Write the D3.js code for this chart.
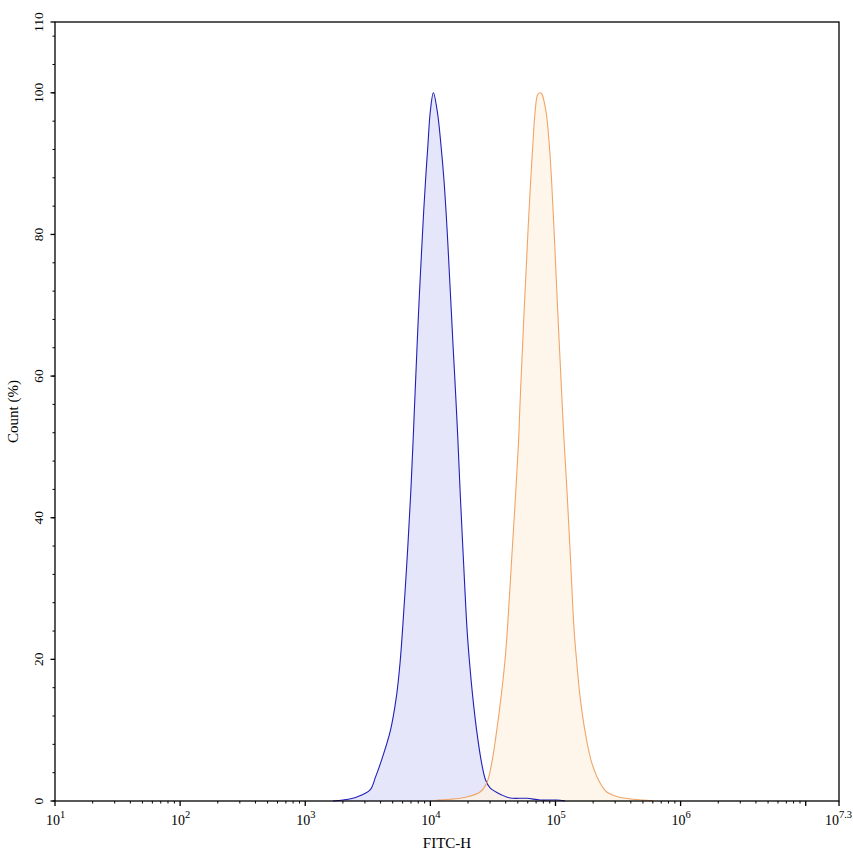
<!DOCTYPE html>
<html>
<head>
<meta charset="UTF-8">
<title>FITC-H histogram</title>
<style>
  html, body { margin: 0; padding: 0; background: #fff; }
  #canvas { width: 853px; height: 856px; }
  #canvas svg { display: block; }
</style>
<script src="https://cdn.jsdelivr.net/npm/d3@7/dist/d3.min.js"></script>
</head>
<body>
<div id="canvas"></div>
<script>
// blue histogram (FITC-H value, count %)
var blueX = [1667, 2004, 2594, 3296, 3648, 4148, 4808, 5349, 5726, 5995, 6490, 6944, 7288, 7437, 7632, 7831, 8050, 8290, 8554, 8841, 9171, 9550, 9981, 10572,
             11376, 12176, 12820, 13350, 13826, 14266, 14720, 15187, 15696, 16196, 16589, 17370, 18428, 19650, 20573, 21820, 23405, 25670, 27620, 30010,
             37220, 43390, 58980, 75340, 101200, 119400];
var blueY = [0, 0.14, 0.57, 1.56, 3.4, 6.2, 10.05, 14.7, 19.53, 24.2, 33.68, 43.0, 51.08, 54.9, 59.57, 64.24, 69.05, 73.7, 78.4, 83.2, 87.9, 92.5, 97.3, 100,
             97.3, 92.5, 87.9, 83.2, 78.4, 73.7, 69.05, 64.24, 59.57, 54.9, 51.08, 43.0, 33.68, 24.2, 19.53, 14.7, 10.05, 5.38, 2.97, 1.84,
             0.85, 0.42, 0.38, 0.14, 0.14, 0];

// orange histogram
var orangeX = [11250, 14350, 19540, 24960, 28240, 30960, 33960, 36740, 39330, 41260, 44480, 47890, 50800, 51740, 53090, 54580, 56110, 57790, 59520,
               61410, 63480, 65850, 68700, 72220, 75340, 77700, 84110, 89390, 92900, 95850, 98720, 101480, 104330, 107440, 110660, 113980, 116950,
               124270, 132300, 140800, 148000, 157300, 171500, 195000, 227300, 257200, 318400, 419600, 602600];
var orangeY = [0.14, 0.24, 0.57, 1.27, 2.55, 5.38, 10.05, 14.7, 19.53, 24.2, 33.68, 43.0, 51.08, 54.9, 59.57, 64.24, 69.05, 73.7, 78.4,
               83.2, 87.9, 92.5, 97.3, 99.8, 100, 99.86, 97.3, 92.5, 87.9, 83.2, 78.4, 73.7, 69.05, 64.24, 59.57, 54.9, 51.08,
               43.0, 33.68, 24.2, 19.53, 14.7, 10.05, 5.38, 2.55, 1.27, 0.57, 0.24, 0.04];

// axes
var xExps = [1, 2, 3, 4, 5, 6];
var xMaxExp = 7.266;
var xMaxLabel = "7.3";
var yTicks = [0, 20, 40, 60, 80, 100, 110];
var yMax = 110;

var margin = {top: 22, right: 14, bottom: 55, left: 55};
var outerWidth = 853, outerHeight = 856;
var innerWidth = outerWidth - margin.left - margin.right;
var innerHeight = outerHeight - margin.top - margin.bottom;

var x = d3.scaleLog()
          .domain([10, Math.pow(10, xMaxExp)])
          .range([0, innerWidth]);
var y = d3.scaleLinear()
          .domain([0, yMax])
          .range([innerHeight, 0]);

var svg = d3.select("#canvas")
            .append("svg")
            .attr("width", outerWidth)
            .attr("height", outerHeight)
            .attr("font-family", "'Liberation Serif', 'Times New Roman', 'DejaVu Serif', serif")
            .append("g")
            .attr("transform", "translate(" + margin.left + "," + margin.top + ")");

// histograms
function series(xs, ys) {
  return xs.map(function(v, i) { return {x: v, y: ys[i]}; });
}
var curve = d3.curveCatmullRom.alpha(0.5);
var area = d3.area()
             .x(function(d) { return x(d.x); })
             .y0(innerHeight)
             .y1(function(d) { return Math.min(y(d.y), innerHeight); })
             .curve(curve);
var line = d3.line()
             .x(function(d) { return x(d.x); })
             .y(function(d) { return Math.min(y(d.y), innerHeight); })
             .curve(curve);

var blue = series(blueX, blueY);
var orange = series(orangeX, orangeY);

svg.append("path").datum(blue).attr("d", area)
   .attr("fill", "#e6e6fb");
svg.append("path").datum(orange).attr("d", area)
   .attr("fill", "#fef2e6").attr("fill-opacity", 0.8);
svg.append("path").datum(blue).attr("d", line)
   .attr("fill", "none").attr("stroke", "#2020b8").attr("stroke-width", 1.1);
svg.append("path").datum(orange).attr("d", line)
   .attr("fill", "none").attr("stroke", "#f0a567").attr("stroke-width", 1.1);

// frame
svg.append("rect")
   .attr("x", 0).attr("y", 0)
   .attr("width", innerWidth).attr("height", innerHeight)
   .attr("fill", "none").attr("stroke", "#000").attr("stroke-width", 1.3);

// x ticks
var minor = [];
for (var e = 1; e < 8; e++) {
  for (var m = 2; m <= 9; m++) {
    var v = m * Math.pow(10, e);
    if (Math.log10(v) < xMaxExp) minor.push(v);
  }
}
var major = xExps.map(function(e) { return Math.pow(10, e); }).concat([1e7, Math.pow(10, xMaxExp)]);

svg.selectAll(".xminor").data(minor).enter().append("line")
   .attr("x1", function(d) { return x(d); }).attr("x2", function(d) { return x(d); })
   .attr("y1", innerHeight).attr("y2", innerHeight + 2.5)
   .attr("stroke", "#000").attr("stroke-width", 1);
svg.selectAll(".xmajor").data(major).enter().append("line")
   .attr("x1", function(d) { return x(d); }).attr("x2", function(d) { return x(d); })
   .attr("y1", innerHeight).attr("y2", innerHeight + 5)
   .attr("stroke", "#000").attr("stroke-width", 1.3);

// x tick labels: "10" plus a separate superscript text
var xLabels = xExps.map(function(e) { return {v: Math.pow(10, e), t: String(e)}; })
                   .concat([{v: Math.pow(10, xMaxExp), t: xMaxLabel}]);
var xg = svg.selectAll(".xlabel").data(xLabels).enter().append("g")
            .attr("class", "xlabel");
xg.append("text")
  .attr("class", "base")
  .attr("y", innerHeight + 24)
  .attr("fill", "#000")
  .style("font-size", "14px")
  .text("10");
xg.append("text")
  .attr("class", "sup")
  .attr("y", innerHeight + 17)
  .attr("fill", "#000")
  .style("font-size", "10.5px")
  .text(function(d) { return d.t; });
xg.each(function(d) {
  var g = d3.select(this);
  var base = g.select(".base"), sup = g.select(".sup");
  var bw = base.node().getComputedTextLength();
  var sw = sup.node().getComputedTextLength();
  var left = x(d.v) - 9;
  // keep the last label inside the page
  var over = left + bw + sw + margin.left - (outerWidth - 1);
  if (over > 0) left -= over;
  base.attr("x", left);
  sup.attr("x", left + bw);
});

// y ticks
var yMinor = d3.range(0, yMax, 4);
svg.selectAll(".yminor").data(yMinor).enter().append("line")
   .attr("x1", -2.5).attr("x2", 0)
   .attr("y1", function(d) { return y(d); }).attr("y2", function(d) { return y(d); })
   .attr("stroke", "#000").attr("stroke-width", 1);
svg.selectAll(".ymajor").data(yTicks).enter().append("line")
   .attr("x1", -4.5).attr("x2", 0)
   .attr("y1", function(d) { return y(d); }).attr("y2", function(d) { return y(d); })
   .attr("stroke", "#000").attr("stroke-width", 1.3);
svg.selectAll(".ylabel").data(yTicks).enter().append("text")
   .attr("transform", function(d) { return "translate(-12," + y(d) + ") rotate(-90)"; })
   .attr("text-anchor", "middle")
   .attr("fill", "#000")
   .style("font-size", "13.5px")
   .text(function(d) { return d; });

// axis titles
svg.append("text")
   .attr("x", innerWidth / 2)
   .attr("y", innerHeight + 47)
   .attr("text-anchor", "middle")
   .attr("fill", "#000")
   .style("font-size", "15px")
   .text("FITC-H");
svg.append("text")
   .attr("transform", "translate(-37," + (innerHeight / 2) + ") rotate(-90)")
   .attr("text-anchor", "middle")
   .attr("fill", "#000")
   .style("font-size", "15px")
   .text("Count (%)");
</script>
</body>
</html>
